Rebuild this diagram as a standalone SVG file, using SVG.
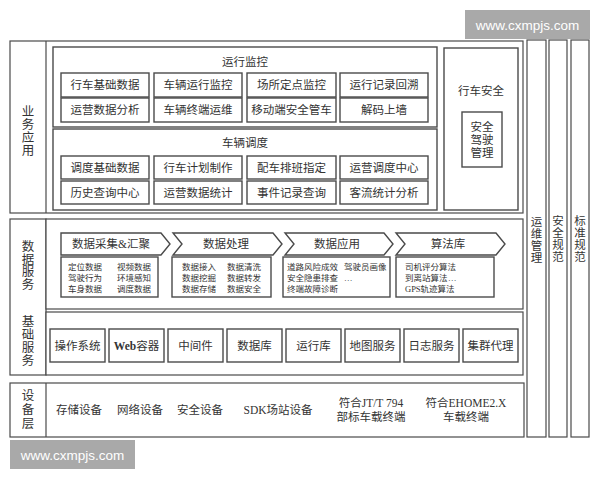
<svg xmlns="http://www.w3.org/2000/svg" width="600" height="480" viewBox="0 0 600 480">
<style>
  .bg{fill:#ffffff}
  .box{fill:#ffffff;stroke:#4a4a4a;stroke-width:1.2}
  .cell{fill:#ffffff;stroke:#4a4a4a;stroke-width:1.4}
  .t{font-family:"Liberation Serif","Noto Sans CJK SC",serif;fill:#333;text-anchor:middle;dominant-baseline:central}
  .t12{font-size:11.5px}
  .t13{font-size:12.5px}
  .s{font-family:"Liberation Serif","Noto Sans CJK SC",serif;fill:#333;font-size:8.5px;dominant-baseline:central}
  .wm{fill:#a9a9a9}
  .wmt{font-family:"Liberation Sans","DejaVu Sans",sans-serif;font-size:13.5px;fill:#ffffff;text-anchor:middle;dominant-baseline:central}
</style>
<rect class="bg" x="0" y="0" width="600" height="480"/>

<!-- watermarks -->
<g id="watermark-top">
  <rect class="wm" x="465" y="10" width="125" height="29"/>
  <text class="wmt" x="527.5" y="25">www.cxmpjs.com</text>
</g>

<!-- business application layer -->
<g id="layer-business">
  <rect class="box" x="10" y="41" width="513" height="172"/>
  <line x1="46" y1="41" x2="46" y2="213" stroke="#4a4a4a" stroke-width="1.2"/>
  <text class="t t13" x="28" y="112">业</text>
  <text class="t t13" x="28" y="125">务</text>
  <text class="t t13" x="28" y="138">应</text>
  <text class="t t13" x="28" y="151">用</text>
</g>

<g id="group-monitor">
  <rect class="cell" x="53" y="47" width="384" height="80"/>
  <text class="t t12" x="245" y="62">运行监控</text>
  <g id="m1"><rect class="cell" x="61" y="73" width="88" height="24"/><text class="t t12" x="105" y="85">行车基础数据</text></g>
  <g id="m2"><rect class="cell" x="154" y="73" width="88" height="24"/><text class="t t12" x="198" y="85">车辆运行监控</text></g>
  <g id="m3"><rect class="cell" x="247" y="73" width="89" height="24"/><text class="t t12" x="291.5" y="85">场所定点监控</text></g>
  <g id="m4"><rect class="cell" x="340" y="73" width="88" height="24"/><text class="t t12" x="384" y="85">运行记录回溯</text></g>
  <g id="m5"><rect class="cell" x="61" y="98" width="88" height="24"/><text class="t t12" x="105" y="110">运营数据分析</text></g>
  <g id="m6"><rect class="cell" x="154" y="98" width="88" height="24"/><text class="t t12" x="198" y="110">车辆终端运维</text></g>
  <g id="m7"><rect class="cell" x="247" y="98" width="89" height="24"/><text class="t t12" x="291.5" y="110">移动端安全管车</text></g>
  <g id="m8"><rect class="cell" x="340" y="98" width="88" height="24"/><text class="t t12" x="384" y="110">解码上墙</text></g>
</g>

<g id="group-dispatch">
  <rect class="cell" x="53" y="129" width="384" height="81"/>
  <text class="t t12" x="245" y="143">车辆调度</text>
  <g id="d1"><rect class="cell" x="61" y="156" width="88" height="23"/><text class="t t12" x="105" y="167.5">调度基础数据</text></g>
  <g id="d2"><rect class="cell" x="154" y="156" width="88" height="23"/><text class="t t12" x="198" y="167.5">行车计划制作</text></g>
  <g id="d3"><rect class="cell" x="247" y="156" width="89" height="23"/><text class="t t12" x="291.5" y="167.5">配车排班指定</text></g>
  <g id="d4"><rect class="cell" x="340" y="156" width="88" height="23"/><text class="t t12" x="384" y="167.5">运营调度中心</text></g>
  <g id="d5"><rect class="cell" x="61" y="181" width="88" height="23"/><text class="t t12" x="105" y="192.5">历史查询中心</text></g>
  <g id="d6"><rect class="cell" x="154" y="181" width="88" height="23"/><text class="t t12" x="198" y="192.5">运营数据统计</text></g>
  <g id="d7"><rect class="cell" x="247" y="181" width="89" height="23"/><text class="t t12" x="291.5" y="192.5">事件记录查询</text></g>
  <g id="d8"><rect class="cell" x="340" y="181" width="88" height="23"/><text class="t t12" x="384" y="192.5">客流统计分析</text></g>
</g>

<g id="group-safety">
  <rect class="cell" x="444" y="48" width="74" height="162"/>
  <text class="t t12" x="481" y="91">行车安全</text>
  <g id="safe-driving">
    <rect class="cell" x="462" y="112" width="40" height="55"/>
    <text class="t t12" x="482" y="127">安全</text>
    <text class="t t12" x="482" y="140">驾驶</text>
    <text class="t t12" x="482" y="153">管理</text>
  </g>
</g>

<!-- data / basic service layer -->
<g id="layer-service-label">
  <rect class="box" x="10" y="219" width="36" height="156"/>
  <text class="t t13" x="28" y="247">数</text>
  <text class="t t13" x="28" y="259.5">据</text>
  <text class="t t13" x="28" y="272">服</text>
  <text class="t t13" x="28" y="284.5">务</text>
  <text class="t t13" x="28" y="322">基</text>
  <text class="t t13" x="28" y="335">础</text>
  <text class="t t13" x="28" y="348">服</text>
  <text class="t t13" x="28" y="361">务</text>
</g>

<g id="layer-data">
  <rect class="box" x="46" y="219" width="477" height="90"/>
  <g id="c1">
    <path class="cell" d="M61,233 H161 L170,244 L161,255 H61 Z"/>
    <text class="t t12" x="111" y="244">数据采集&amp;汇聚</text>
    <rect class="cell" x="61" y="257" width="97" height="40"/>
    <text class="s" x="68" y="266.5">定位数据</text><text class="s" x="117" y="266.5">视频数据</text>
    <text class="s" x="68" y="277.5">驾驶行为</text><text class="s" x="117" y="277.5">环境感知</text>
    <text class="s" x="68" y="288.5">车身数据</text><text class="s" x="117" y="288.5">调度数据</text>
  </g>
  <g id="c2">
    <path class="cell" d="M173,233 H273 L282,244 L273,255 H173 L182,244 Z"/>
    <text class="t t12" x="226" y="244">数据处理</text>
    <rect class="cell" x="172" y="257" width="99" height="40"/>
    <text class="s" x="182" y="266.5">数据接入</text><text class="s" x="227" y="266.5">数据清洗</text>
    <text class="s" x="182" y="277.5">数据挖掘</text><text class="s" x="227" y="277.5">数据转发</text>
    <text class="s" x="182" y="288.5">数据存储</text><text class="s" x="227" y="288.5">数据安全</text>
  </g>
  <g id="c3">
    <path class="cell" d="M285,233 H384 L393,244 L384,255 H285 L294,244 Z"/>
    <text class="t t12" x="337" y="244">数据应用</text>
    <rect class="cell" x="283" y="257" width="107" height="40"/>
    <text class="s" x="287" y="266.5">道路风险成效</text><text class="s" x="344" y="266.5">驾驶员画像</text>
    <text class="s" x="287" y="277.5">安全隐患排查</text><text class="s" x="344" y="277.5">…</text>
    <text class="s" x="287" y="288.5">终端故障诊断</text>
  </g>
  <g id="c4">
    <path class="cell" d="M396,233 H496 L505,244 L496,255 H396 L405,244 Z"/>
    <text class="t t12" x="448" y="244">算法库</text>
    <rect class="cell" x="396" y="257" width="98" height="40"/>
    <text class="s" x="405" y="266.5">司机评分算法</text>
    <text class="s" x="405" y="277.5">到离站算法</text><text class="s" x="448" y="277.5">…</text>
    <text class="s" x="405" y="288.5">GPS轨迹算法</text>
  </g>
</g>

<g id="layer-basic">
  <rect class="box" x="46" y="312" width="477" height="63"/>
  <g id="b1"><rect class="cell" x="50" y="329" width="55" height="33"/><text class="t t12" x="77.5" y="345.5">操作系统</text></g>
  <g id="b2"><rect class="cell" x="109" y="329" width="55" height="33"/><text class="t t12" x="136.5" y="345.5"><tspan font-weight="bold">Web</tspan>容器</text></g>
  <g id="b3"><rect class="cell" x="168" y="329" width="55" height="33"/><text class="t t12" x="195.5" y="345.5">中间件</text></g>
  <g id="b4"><rect class="cell" x="227" y="329" width="55" height="33"/><text class="t t12" x="254.5" y="345.5">数据库</text></g>
  <g id="b5"><rect class="cell" x="286" y="329" width="55" height="33"/><text class="t t12" x="313.5" y="345.5">运行库</text></g>
  <g id="b6"><rect class="cell" x="345" y="329" width="55" height="33"/><text class="t t12" x="372.5" y="345.5">地图服务</text></g>
  <g id="b7"><rect class="cell" x="404" y="329" width="55" height="33"/><text class="t t12" x="431.5" y="345.5">日志服务</text></g>
  <g id="b8"><rect class="cell" x="463" y="329" width="55" height="33"/><text class="t t12" x="490.5" y="345.5">集群代理</text></g>
</g>

<!-- device layer -->
<g id="layer-device">
  <rect class="box" x="10" y="383" width="514" height="54"/>
  <line x1="46" y1="383" x2="46" y2="437" stroke="#4a4a4a" stroke-width="1.2"/>
  <text class="t t13" x="28" y="396">设</text>
  <text class="t t13" x="28" y="410">备</text>
  <text class="t t13" x="28" y="424">层</text>
  <text class="t t12" x="79" y="410">存储设备</text>
  <text class="t t12" x="140" y="410">网络设备</text>
  <text class="t t12" x="200" y="410">安全设备</text>
  <text class="t t12" x="278" y="410">SDK场站设备</text>
  <text class="t t12" x="371" y="403">符合JT/T 794</text>
  <text class="t t12" x="371" y="417">部标车载终端</text>
  <text class="t t12" x="466" y="403">符合EHOME2.X</text>
  <text class="t t12" x="466" y="417">车载终端</text>
</g>

<!-- vertical columns -->
<g id="col-ops">
  <rect class="box" x="527" y="40" width="19" height="397"/>
  <text class="t t12" x="536.5" y="222">运</text>
  <text class="t t12" x="536.5" y="234">维</text>
  <text class="t t12" x="536.5" y="246">管</text>
  <text class="t t12" x="536.5" y="258">理</text>
</g>
<g id="col-security">
  <rect class="box" x="549" y="40" width="18" height="397"/>
  <text class="t t12" x="558" y="221">安</text>
  <text class="t t12" x="558" y="233">全</text>
  <text class="t t12" x="558" y="245">规</text>
  <text class="t t12" x="558" y="257">范</text>
</g>
<g id="col-standard">
  <rect class="box" x="571" y="40" width="18" height="397"/>
  <text class="t t12" x="580" y="221">标</text>
  <text class="t t12" x="580" y="233">准</text>
  <text class="t t12" x="580" y="245">规</text>
  <text class="t t12" x="580" y="257">范</text>
</g>

<g id="connectors"></g>

<g id="watermark-bottom">
  <rect class="wm" x="10" y="440" width="125" height="29"/>
  <text class="wmt" x="72.5" y="455">www.cxmpjs.com</text>
</g>
</svg>
